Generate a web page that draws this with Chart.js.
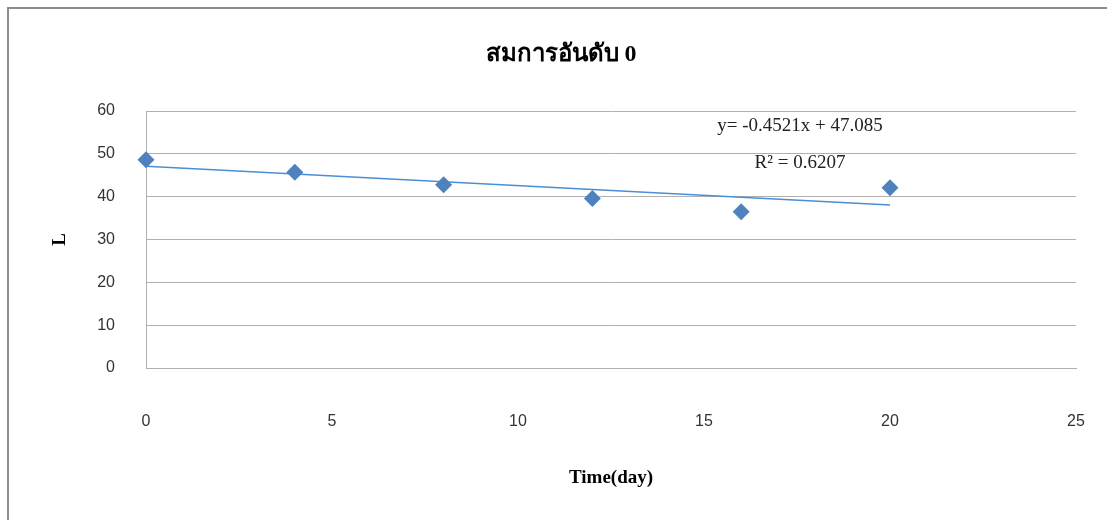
<!DOCTYPE html>
<html>
<head>
<meta charset="utf-8">
<script src="https://cdn.jsdelivr.net/npm/chart.js@4/dist/chart.umd.min.js"></script>
<style>
  html, body { margin: 0; padding: 0; background: #ffffff; }
  #wrap { width: 1107px; height: 520px; position: relative; }
</style>
</head>
<body>
<div id="wrap"><canvas id="c"></canvas></div>
<script>
// Measured L over time (days)
const days = [0, 4, 8, 12, 16, 20];
const lValues = [48.6, 45.7, 42.8, 39.6, 36.5, 42.1];

// Linear trendline as stated on the chart
const trendSlope = -0.4521;
const trendIntercept = 47.085;
const trendR2 = 0.6207;
const trendRange = [0, 20];

const xTicks = [0, 5, 10, 15, 20, 25];
const yTicks = [0, 10, 20, 30, 40, 50, 60];

const chartTitle = 'สมการอันดับ 0';
const xTitle = 'Time(day)';
const yTitle = 'L';

const points = days.map((d, i) => ({ x: d, y: lValues[i] }));
const trendPoints = trendRange.map(x => ({ x: x, y: trendSlope * x + trendIntercept }));

const eqText = 'y= ' + trendSlope.toFixed(4) + 'x + ' + trendIntercept.toFixed(3);
const r2Text = 'R² = ' + trendR2.toFixed(4);

// white background and outer chart frame
const framePlugin = {
  id: 'frame',
  beforeDraw(chart) {
    const ctx = chart.ctx;
    ctx.save();
    ctx.fillStyle = '#ffffff';
    ctx.fillRect(0, 0, chart.width, chart.height);
    ctx.strokeStyle = '#8c8c8c';
    ctx.lineWidth = 2;
    ctx.strokeRect(8, 8, chart.width + 40, chart.height + 40);
    ctx.restore();
  }
};

// trendline equation and R² labels
const equationPlugin = {
  id: 'equation',
  afterDatasetsDraw(chart) {
    const ctx = chart.ctx;
    const ca = chart.chartArea;
    const cx = ca.left + 654;
    ctx.save();
    ctx.fillStyle = '#222222';
    ctx.font = '19px "Liberation Serif", "DejaVu Serif", serif';
    ctx.textAlign = 'center';
    ctx.textBaseline = 'middle';
    ctx.fillText(eqText, cx, ca.top + 15);
    ctx.fillText(r2Text, cx, ca.top + 52);
    ctx.restore();
  }
};

const tickFont = { family: '"Liberation Sans", Arial, sans-serif', size: 16 };
const serifBold = { family: '"Liberation Serif", "DejaVu Serif", serif', size: 19, weight: 'bold', lineHeight: 1.2 };

new Chart(document.getElementById('c'), {
  type: 'scatter',
  data: {
    datasets: [
      {
        label: 'Linear (L)',
        type: 'line',
        data: trendPoints,
        borderColor: '#4a8fd6',
        borderWidth: 1.5,
        pointRadius: 0,
        fill: false,
        clip: false,
        order: 2
      },
      {
        label: 'L',
        data: points,
        pointStyle: 'rectRot',
        pointRadius: 8.5,
        pointHoverRadius: 8.5,
        backgroundColor: '#4f81bd',
        borderColor: '#4f81bd',
        borderWidth: 0,
        clip: false,
        order: 1
      }
    ]
  },
  options: {
    responsive: true,
    maintainAspectRatio: false,
    animation: false,
    events: [],
    layout: { padding: { left: 46, right: 31, top: 0, bottom: 0 } },
    plugins: {
      legend: { display: false },
      tooltip: { enabled: false },
      title: {
        display: true,
        text: chartTitle,
        color: '#000000',
        font: { family: '"Liberation Serif", "DejaVu Serif", serif', size: 24, weight: 'bold', lineHeight: 1.2 },
        padding: { top: 40.6, bottom: 41.6 }
      }
    },
    scales: {
      x: {
        type: 'linear',
        min: xTicks[0],
        max: xTicks[xTicks.length - 1],
        afterBuildTicks(scale) { scale.ticks = xTicks.map(v => ({ value: v })); },
        afterFit(scale) {
          scale.height = 152;
          scale.paddingLeft = 0;
          scale.paddingRight = 0;
        },
        grid: { display: false, drawTicks: true, tickLength: 44 },
        border: { display: true, color: '#b0b0b0', width: 1 },
        ticks: { padding: 0, color: '#333333', font: tickFont, maxRotation: 0 },
        title: {
          display: true,
          text: xTitle,
          color: '#000000',
          font: serifBold,
          padding: { top: 0, bottom: 30.6 }
        }
      },
      y: {
        type: 'linear',
        min: yTicks[0],
        max: yTicks[yTicks.length - 1],
        afterBuildTicks(scale) { scale.ticks = yTicks.map(v => ({ value: v })); },
        afterFit(scale) {
          scale.width = 100;
          scale.paddingTop = 0;
          scale.paddingBottom = 0;
        },
        grid: { color: '#b0b0b0', lineWidth: 1, drawTicks: false },
        border: { display: true, color: '#b0b0b0', width: 1 },
        ticks: { padding: 31, color: '#333333', font: tickFont },
        title: {
          display: true,
          text: yTitle,
          color: '#000000',
          font: serifBold,
          padding: { top: 2.6, bottom: 0 }
        }
      }
    }
  },
  plugins: [framePlugin, equationPlugin]
});
</script>
</body>
</html>
